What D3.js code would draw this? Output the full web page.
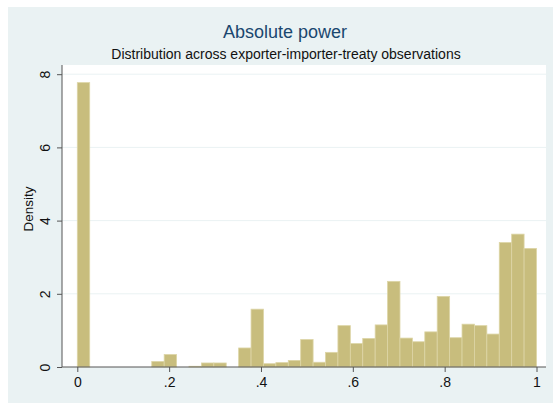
<!DOCTYPE html>
<html>
<head>
<meta charset="utf-8">
<script src="https://cdn.jsdelivr.net/npm/d3@7"></script>
<style>
  body { margin: 0; background: #fff; }
  svg { display: block; font-family: "Liberation Sans", Arial, sans-serif; }
</style>
</head>
<body>
<svg id="chart"></svg>
<script>
const width = 555;
const height = 403;

// 37 bins from 0 to 1, density per bin
const binCount = 37;
const density = [7.77, 0, 0, 0, 0, 0, 0.15, 0.34, 0, 0.02,
                 0.11, 0.11, 0, 0.52, 1.58, 0.09, 0.12, 0.18, 0.75, 0.13,
                 0.40, 1.13, 0.64, 0.78, 1.15, 2.34, 0.79, 0.69, 0.96, 1.93,
                 0.80, 1.17, 1.13, 0.90, 3.40, 3.63, 3.24];
const xTicks = [0, 0.2, 0.4, 0.6, 0.8, 1];
const xTickLabels = ["0", ".2", ".4", ".6", ".8", "1"];
const yTicks = [0, 2, 4, 6, 8];

const svg = d3.select("#chart").attr("width", width).attr("height", height);

// outer graph region
svg.append("rect").attr("x", 8).attr("y", 7).attr("width", 545).attr("height", 396)
  .attr("fill", "#eaf2f3");

// plot region
const plot = {left: 62, right: 546, top: 65, bottom: 367};
svg.append("rect").attr("x", plot.left).attr("y", plot.top)
  .attr("width", plot.right - plot.left).attr("height", plot.bottom - plot.top)
  .attr("fill", "#ffffff");

const x = d3.scaleLinear().domain([0, 1]).range([77.3, 536.5]);
const y = d3.scaleLinear().domain([0, 8]).range([367, 74.2]);

// grid lines
svg.append("g").selectAll("line").data(yTicks.filter(d => d > 0)).enter()
  .append("line")
  .attr("x1", plot.left).attr("x2", plot.right)
  .attr("y1", d => y(d)).attr("y2", d => y(d))
  .attr("stroke", "#eaf2f3").attr("stroke-width", 1);

// bars
const bins = density.map((v, i) => ({x0: i / binCount, x1: (i + 1) / binCount, v: v}));
svg.append("g").selectAll("rect").data(bins.filter(d => d.v > 0)).enter()
  .append("rect")
  .attr("x", d => x(d.x0))
  .attr("width", d => x(d.x1) - x(d.x0))
  .attr("y", d => y(d.v))
  .attr("height", d => y(0) - y(d.v))
  .attr("fill", "#c8bd7d")
  .attr("stroke", "#ddd5a6")
  .attr("stroke-width", 0.8);

// x axis
const xAxis = svg.append("g").attr("transform", `translate(0,${plot.bottom})`)
  .call(d3.axisBottom(x).tickValues(xTicks).tickFormat((d, i) => xTickLabels[i])
        .tickSize(5).tickSizeOuter(0));
xAxis.select(".domain").attr("d", `M${plot.left},0H${plot.right}`);
xAxis.selectAll("line").attr("stroke", "#555");
xAxis.select(".domain").attr("stroke", "#555");
xAxis.selectAll("text").attr("font-size", 14).attr("fill", "#111")
  .attr("font-family", "Liberation Sans, Arial, sans-serif").attr("dy", "0.85em");

// y axis
const yAxis = svg.append("g").attr("transform", `translate(${plot.left},0)`)
  .call(d3.axisLeft(y).tickValues(yTicks).tickSize(5).tickSizeOuter(0));
yAxis.select(".domain").attr("d", `M0,${plot.top}V${plot.bottom}`).attr("stroke", "#555");
yAxis.selectAll("line").attr("stroke", "#555");
yAxis.selectAll("text")
  .attr("font-size", 14).attr("fill", "#111")
  .attr("font-family", "Liberation Sans, Arial, sans-serif")
  .attr("x", 0).attr("dy", 0)
  .attr("text-anchor", "middle")
  .attr("transform", "translate(-12,0) rotate(-90)");

// y label
svg.append("text")
  .attr("transform", "translate(33,209) rotate(-90)")
  .attr("text-anchor", "middle")
  .attr("font-size", 13.5).attr("fill", "#111")
  .text("Density");

// titles
svg.append("text").attr("x", 285).attr("y", 38)
  .attr("text-anchor", "middle").attr("font-size", 18).attr("fill", "#1a476f")
  .text("Absolute power");
svg.append("text").attr("x", 286).attr("y", 59)
  .attr("text-anchor", "middle").attr("font-size", 14).attr("fill", "#111")
  .text("Distribution across exporter-importer-treaty observations");
</script>
</body>
</html>
